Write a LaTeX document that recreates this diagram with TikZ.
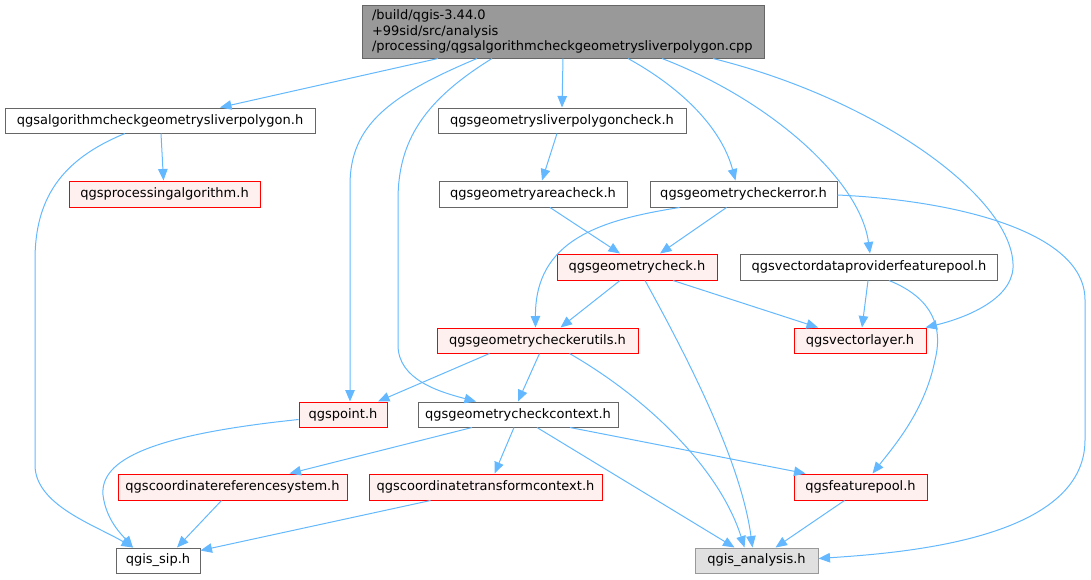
\documentclass[tikz,border=0pt]{standalone}
\usepackage{fontspec}
\setmainfont{DejaVu Sans}
\usetikzlibrary{arrows.meta,calc}
\definecolor{edgec}{HTML}{63B8FF}
\definecolor{redfill}{HTML}{FFF0F0}
\definecolor{reddraw}{HTML}{FF0000}
\definecolor{topfill}{HTML}{999999}
\definecolor{topdraw}{HTML}{666666}
\definecolor{grayfill}{HTML}{E0E0E0}
\definecolor{graydraw}{HTML}{999999}
\tikzset{
  box/.style={draw=topdraw, fill=white, line width=1pt, inner sep=0pt, minimum height=25pt,
    font=\fontsize{13pt}{15.5pt}\selectfont, anchor=center},
  redbox/.style={box, draw=reddraw, fill=redfill},
  graybox/.style={box, draw=graydraw, fill=grayfill},
  edge/.style={draw=edgec, line width=1pt, -{Triangle[length=11.5pt,width=9.5pt]}},
}
\begin{document}
\begin{tikzpicture}[x=1pt,y=-1pt]
\useasboundingbox (0,0) rectangle (1091,579);
\node[box, fill=topfill, minimum width=402pt, minimum height=53pt, text width=382pt, align=left, inner xsep=10pt] (top) at (563,31.5)
  {/build/qgis-3.44.0\\+99sid/src/analysis\\/processing/qgsalgorithmcheckgeometrysliverpolygon.cpp};
\node[box, minimum width=310pt] (A) at (160,120.5) {qgsalgorithmcheckgeometrysliverpolygon.h};
\node[redbox, minimum width=191pt, minimum height=26pt] (proc) at (164.5,194) {qgsprocessingalgorithm.h};
\node[box, minimum width=248pt] (sliver) at (562,120.5) {qgsgeometrysliverpolygoncheck.h};
\node[box, minimum width=188pt, minimum height=26pt] (area) at (533,194) {qgsgeometryareacheck.h};
\node[box, minimum width=187pt, minimum height=26pt] (cerr) at (743.5,194) {qgsgeometrycheckerror.h};
\node[redbox, minimum width=160pt, minimum height=26pt] (gcheck) at (637,267) {qgsgeometrycheck.h};
\node[box, minimum width=257pt, minimum height=26pt] (vdp) at (869,267) {qgsvectordataproviderfeaturepool.h};
\node[redbox, minimum width=132pt] (vlayer) at (860,340.5) {qgsvectorlayer.h};
\node[redbox, minimum width=201pt] (utils) at (537.5,340.5) {qgsgeometrycheckerutils.h};
\node[redbox, minimum width=88pt] (point) at (343,414.5) {qgspoint.h};
\node[box, minimum width=200pt] (ctx) at (518,414.5) {qgsgeometrycheckcontext.h};
\node[redbox, minimum width=229pt, minimum height=26pt] (crs) at (232.5,487) {qgscoordinatereferencesystem.h};
\node[redbox, minimum width=233pt, minimum height=26pt] (tctx) at (485.5,487) {qgscoordinatetransformcontext.h};
\node[redbox, minimum width=133pt, minimum height=26pt] (fpool) at (860.5,487) {qgsfeaturepool.h};
\node[box, minimum width=84pt] (sip) at (158,560.5) {qgis\_sip.h};
\node[graybox, minimum width=123pt] (ana) at (756.5,560.5) {qgis\_analysis.h};

% edges from top
\draw[edge] ([xshift=-125pt]top.south) -- ([xshift=60pt]A.north);
\draw[edge] ([xshift=-86pt]top.south) .. controls (390,95) and (350,125) .. (350,185) -- ([xshift=7pt]point.north);
\draw[edge] ([xshift=-71pt]top.south) .. controls (425,100) and (398,140) .. (398,200) -- (398,345) .. controls (398,380) and (440,392) .. ([xshift=-42pt]ctx.north);
\draw[edge] (top.south) -- (sliver.north);
\draw[edge] ([xshift=65pt]top.south) .. controls (685,90) and (722,130) .. ([xshift=-8pt]cerr.north);
\draw[edge] ([xshift=99pt]top.south) .. controls (770,100) and (860,180) .. ([xshift=1pt]vdp.north);
\draw[edge] ([xshift=150pt]top.south) .. controls (880,100) and (1016,200) .. (1013,268) .. controls (1011,300) and (965,318) .. ([xshift=-1pt]vlayer.north east);

% from A
\draw[edge] ([xshift=1pt]A.south) -- ([xshift=-1pt]proc.north);
\draw[edge] ([xshift=-35pt]A.south) .. controls (60,160) and (35,200) .. (35,260) -- (35,465) .. controls (35,505) and (95,525) .. ([xshift=-25pt]sip.north);

% sliver, area, cerr
\draw[edge] ([xshift=-5pt]sliver.south) -- ([xshift=9pt]area.north);
\draw[edge] ([xshift=17pt]area.south) -- ([xshift=-17pt]gcheck.north);
\draw[edge] ([xshift=-17pt]cerr.south) -- ([xshift=23pt]gcheck.north);
\draw[edge] ([xshift=-64pt]cerr.south) .. controls (600,220) and (535,240) .. ([xshift=-2pt]utils.north);
\draw[edge] ([yshift=-1pt]cerr.east) .. controls (950,200) and (1085,230) .. (1085,300) -- (1085,440) .. controls (1085,540) and (900,553) .. ([yshift=2pt]ana.east);

% gcheck
\draw[edge] ([xshift=-17pt]gcheck.south) -- ([xshift=23pt]utils.north);
\draw[edge] ([xshift=36pt]gcheck.south) -- ([xshift=-42pt]vlayer.north);
\draw[edge] ([xshift=8pt]gcheck.south) .. controls (700,380) and (742,470) .. ([xshift=-4pt]ana.north);

% vdp
\draw[edge] ([xshift=-1pt]vdp.south) -- ([xshift=2pt]vlayer.north);
\draw[edge] ([xshift=20pt]vdp.south) .. controls (925,295) and (945,320) .. (935,360) .. controls (925,410) and (895,445) .. ([xshift=12pt]fpool.north);

% utils
\draw[edge] ([xshift=-48pt]utils.south) -- ([xshift=35pt]point.north);
\draw[edge] ([xshift=2pt]utils.south) -- (ctx.north);
\draw[edge] ([xshift=32pt]utils.south) .. controls (650,400) and (720,470) .. ([xshift=-12pt]ana.north);

% point
\draw[edge] ([yshift=-5pt]point.west) .. controls (150,435) and (100,460) .. (103,495) .. controls (106,520) and (122,535) .. ([xshift=-25pt]sip.north);

% ctx
\draw[edge] ([xshift=-46pt]ctx.south) -- ([xshift=57pt]crs.north);
\draw[edge] ([xshift=-4pt]ctx.south) -- ([xshift=9pt]tctx.north);
\draw[edge] ([xshift=19pt]ctx.south) -- ([xshift=-22pt]ana.north);
\draw[edge] ([xshift=52pt]ctx.south) -- ([xshift=-55pt]fpool.north);

% crs, tctx, fpool
\draw[edge] ([xshift=-11pt]crs.south) -- ([xshift=19pt]sip.north);
\draw[edge] ([xshift=-55pt]tctx.south) -- ([yshift=-3pt]sip.north east);
\draw[edge] ([xshift=-16pt]fpool.south) -- ([xshift=19pt]ana.north);
\end{tikzpicture}
\end{document}
